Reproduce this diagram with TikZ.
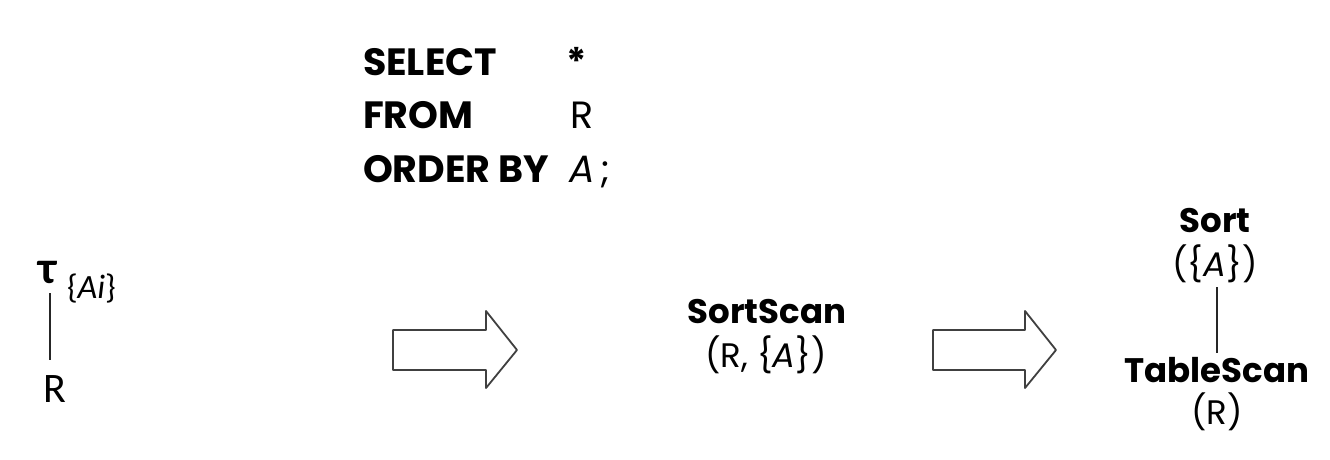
\documentclass[tikz,border=0pt]{standalone}
\usepackage{fontspec}
\setmainfont{Poppins}
\newfontfamily\calib{Carlito}
\tikzset{
  txt/.style={inner sep=0pt, outer sep=0pt, font=\fontsize{34}{40}\selectfont},
  btxt/.style={txt, font=\fontsize{34}{40}\selectfont\bfseries},
  sqltxt/.style={inner sep=0pt, outer sep=0pt, font=\fontsize{38}{44}\selectfont},
  sqlbtxt/.style={sqltxt, font=\fontsize{38}{44}\selectfont\bfseries},
  lefttxt/.style={inner sep=0pt, outer sep=0pt, font=\calib\fontsize{42}{48}\selectfont},
  bigarrow/.style={draw=black!75, line width=1.8pt, line join=round, fill=white},
  treeline/.style={draw=black!85, line width=1.6pt}
}
\begin{document}
\begin{tikzpicture}[x=1pt,y=-1pt]
\useasboundingbox (0,0) rectangle (1330,460);
% SQL
\node[sqlbtxt, anchor=base west] (sel) at (363,75) {SELECT};
\node[sqlbtxt, anchor=base west] (star) at (566,75) {*};
\node[sqlbtxt, anchor=base west] (from) at (363,128) {FROM};
\node[sqltxt, anchor=base west] (rel) at (570,128) {R};
\node[sqlbtxt, anchor=base west] (ord) at (363,182) {ORDER BY};
\node[sqltxt, anchor=base west] (attr) at (569,182) {\itshape A};
\node[sqltxt, anchor=base west] (semi) at (600,182) {;};
% left tree
\node[lefttxt, anchor=base west, font=\calib\bfseries\fontsize{46}{52}\selectfont] (tau) at (38,283) {τ};
\node[lefttxt, anchor=base west, font=\calib\fontsize{34}{40}\selectfont] (tauarg) at (67,298) {\{\itshape Ai\upshape\}};
\node[lefttxt, anchor=base west] (lr) at (43,402) {R};
\coordinate (lt) at (50,293);
\coordinate (lb) at (50,360);
\draw[treeline] (lt) -- (lb);
% arrows
\draw[bigarrow] (393,330) -- (486,330) -- (486,311) -- (517,350) -- (486,388) -- (486,370) -- (393,370) -- cycle;
\draw[bigarrow] (933,330) -- (1025,330) -- (1025,311) -- (1056,350) -- (1025,388) -- (1025,370) -- (933,370) -- cycle;
% SortScan
\node[btxt, anchor=base] (ss) at (767,323) {SortScan};
\node[txt, anchor=base] (ssarg) at (766,367) {(R, \{\itshape A\upshape\})};
% right tree
\node[btxt, anchor=base] (sort) at (1215,232) {Sort};
\node[txt, anchor=base] (sortarg) at (1215,276) {(\{\itshape A\upshape\})};
\node[btxt, anchor=base] (ts) at (1217,382) {TableScan};
\node[txt, anchor=base] (tsarg) at (1217,424) {(R)};
\coordinate (rt) at (1217,287);
\coordinate (rb) at (1217,353);
\draw[treeline] (rt) -- (rb);
\end{tikzpicture}
\end{document}
